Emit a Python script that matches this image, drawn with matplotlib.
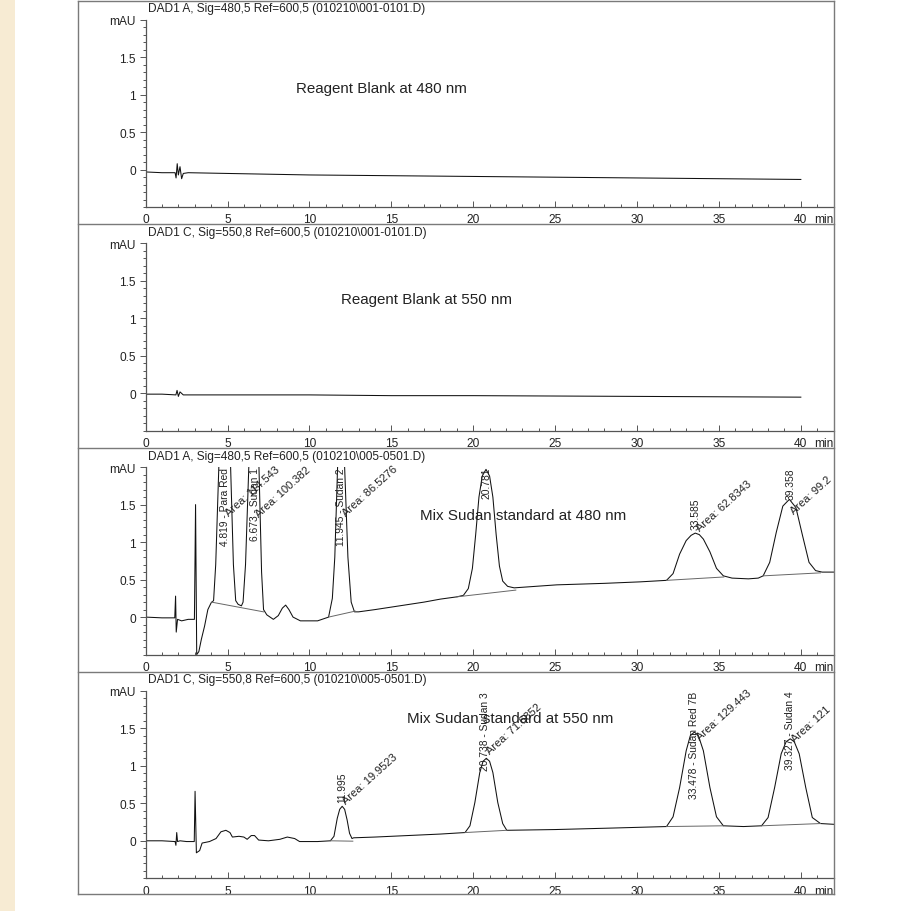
import matplotlib
matplotlib.use('Agg')
import matplotlib.pyplot as plt
from matplotlib.lines import Line2D
from matplotlib.patches import Rectangle
from matplotlib.ticker import MultipleLocator

plt.rcParams['font.family'] = ['Liberation Sans', 'DejaVu Sans']

W, H = 914, 912

titles = [r'DAD1 A, Sig=480,5 Ref=600,5 (010210\001-0101.D)',
          r'DAD1 C, Sig=550,8 Ref=600,5 (010210\001-0101.D)',
          r'DAD1 A, Sig=480,5 Ref=600,5 (010210\005-0501.D)',
          r'DAD1 C, Sig=550,8 Ref=600,5 (010210\005-0501.D)']
captions = ['Reagent Blank at 480 nm', 'Reagent Blank at 550 nm',
            'Mix Sudan standard at 480 nm', 'Mix Sudan standard at 550 nm']
caption_x = [14.41, 17.15, 23.05, 22.25]
caption_y = [1.085, 1.26, 1.36, 1.64]

# traces (time in min, signal in mAU)
blank480_t = [0, 1.0, 1.8, 1.86, 1.93, 2.0, 2.1, 2.2, 2.3, 2.6, 5, 10, 15, 20, 25, 30, 35, 40]
blank480_y = [-0.03, -0.04, -0.04, -0.11, 0.08, -0.07, 0.04, -0.12, -0.05, -0.04, -0.05,
              -0.07, -0.08, -0.09, -0.10, -0.11, -0.12, -0.13]

blank550_t = [0, 1.0, 1.85, 1.92, 2.0, 2.1, 2.3, 5, 10, 15, 20, 25, 30, 35, 40]
blank550_y = [-0.01, -0.01, -0.02, 0.04, -0.04, 0.02, -0.02, -0.02, -0.02, -0.03,
              -0.03, -0.035, -0.04, -0.045, -0.05]

mix480_t = [0, 1.0, 1.78, 1.83, 1.87, 1.95, 2.2, 2.6, 2.98, 3.05, 3.12, 3.25, 3.4, 3.6,
            3.8, 4.0, 4.15, 4.28, 4.47, 4.82, 5.19, 5.36, 5.5, 5.65, 5.85, 5.95, 6.1, 6.3,
            6.67, 6.92, 7.08, 7.2, 7.4, 7.8, 8.1, 8.35, 8.55, 8.75, 9.0, 9.45, 10.5, 11.17,
            11.4, 11.55, 11.72, 11.95, 12.15, 12.35, 12.55, 12.75, 13.0, 14.0, 15.5, 17.0,
            18.0, 19.0, 19.4, 19.7, 19.95, 20.15, 20.35, 20.55, 20.78, 21.0, 21.2, 21.4,
            21.6, 21.8, 22.1, 22.5, 25.1, 28.0, 30.2, 31.8, 32.2, 32.6, 33.0, 33.3, 33.55,
            33.8, 34.05, 34.45, 34.85, 35.27, 35.8, 36.8, 37.4, 37.7, 38.1, 38.5, 38.9,
            39.3, 39.7, 40.1, 40.5, 40.9, 41.3, 42.0]
mix480_y = [0.0, -0.01, -0.01, 0.28, -0.2, -0.03, -0.05, -0.03, -0.03, 1.5, -0.5, -0.46,
            -0.3, -0.12, 0.1, 0.19, 0.22, 0.7, 2.0, 3.0, 2.0, 0.7, 0.22, 0.17, 0.15, 0.2,
            0.7, 2.0, 3.0, 2.0, 0.6, 0.1, 0.03, -0.03, 0.02, 0.12, 0.16, 0.1, 0.0, -0.05,
            -0.05, 0.0, 0.25, 0.8, 2.0, 3.0, 2.0, 0.8, 0.2, 0.07, 0.07, 0.1, 0.15, 0.2,
            0.24, 0.27, 0.29, 0.38, 0.65, 1.1, 1.6, 1.88, 1.97, 1.88, 1.6, 1.1, 0.68, 0.48,
            0.41, 0.39, 0.43, 0.45, 0.47, 0.49, 0.58, 0.84, 1.02, 1.09, 1.12, 1.1, 1.04,
            0.87, 0.65, 0.55, 0.52, 0.51, 0.52, 0.55, 0.73, 1.13, 1.48, 1.57, 1.46, 1.09,
            0.73, 0.62, 0.6, 0.6]

mix550_t = [0, 1.0, 1.8, 1.85, 1.9, 1.95, 2.1, 2.5, 2.97, 3.02, 3.1, 3.3, 3.45, 3.9, 4.3,
            4.6, 4.9, 5.15, 5.3, 5.7, 6.0, 6.2, 6.45, 6.65, 6.9, 7.5, 8.2, 8.65, 9.1, 9.4,
            10.5, 11.28, 11.5, 11.7, 11.85, 12.0, 12.15, 12.3, 12.45, 12.6, 12.7, 14.0,
            16.0, 18.0, 19.5, 19.8, 20.1, 20.4, 20.6, 20.8, 21.0, 21.2, 21.5, 21.8, 22.05,
            25.0, 28.5, 31.8, 32.2, 32.6, 33.0, 33.25, 33.5, 33.75, 34.05, 34.45, 34.85,
            35.27, 36.5, 37.6, 38.0, 38.4, 38.8, 39.1, 39.35, 39.6, 39.9, 40.3, 40.7, 41.2,
            42.0]
mix550_y = [0.0, 0.0, -0.01, -0.06, 0.11, -0.01, 0.0, -0.01, -0.01, 0.66, -0.16, -0.13,
            -0.03, -0.01, 0.03, 0.12, 0.14, 0.11, 0.05, 0.06, 0.05, 0.02, 0.07, 0.07, 0.01,
            0.0, 0.02, 0.05, 0.03, -0.01, -0.01, 0.0, 0.06, 0.3, 0.42, 0.46, 0.42, 0.28,
            0.1, 0.03, 0.04, 0.05, 0.07, 0.09, 0.11, 0.2, 0.51, 0.91, 1.06, 1.1, 1.06, 0.91,
            0.51, 0.23, 0.14, 0.15, 0.17, 0.19, 0.32, 0.71, 1.2, 1.4, 1.45, 1.4, 1.2, 0.71,
            0.32, 0.2, 0.19, 0.2, 0.31, 0.71, 1.16, 1.32, 1.36, 1.32, 1.16, 0.71, 0.31,
            0.23, 0.22]

# integration baselines: (t0, y0, t1, y1)
mix480_base = [(4.02, 0.2, 7.2, 0.07), (11.17, 0.0, 12.8, 0.08), (19.0, 0.27, 22.6, 0.36),
               (31.8, 0.49, 35.3, 0.535), (37.7, 0.55, 41.2, 0.59)]
mix550_base = [(11.28, 0.0, 12.65, -0.005), (19.5, 0.11, 22.05, 0.14),
               (31.8, 0.19, 35.27, 0.2), (37.6, 0.2, 41.2, 0.23)]

mix480_rt = [4.819, 6.673, 11.945, 20.781, 33.585, 39.358]
mix480_rt_text = ['4.819 - Para Red', '6.673 - Sudan 1', '11.945 - Sudan 2', '20.781',
                  '33.585', '39.358']
mix480_rt_y = [2.0, 2.0, 2.0, 2.0, 1.17, 2.0]
mix480_area_text = ['Area: 114.543', 'Area: 100.382', 'Area: 86.5276', 'Area: 62.8343',
                    'Area: 99.2']
mix480_area_x = [5.15, 7.0, 12.3, 33.95, 39.65]
mix480_area_y = [1.33, 1.31, 1.33, 1.13, 1.35]

mix550_rt = [11.995, 20.738, 33.478, 39.327]
mix550_rt_text = ['11.995', '20.738 - Sudan 3', '33.478 - Sudan Red 7B', '39.327 - Sudan 4']
mix550_rt_y = [0.52, 2.0, 2.0, 2.0]
mix550_area_text = ['Area: 19.9523', 'Area: 71.6852', 'Area: 129.443', 'Area: 121']
mix550_area_x = [12.3, 21.1, 33.9, 39.7]
mix550_area_y = [0.47, 1.14, 1.32, 1.3]

panels = [
    dict(t=blank480_t, y=blank480_y, base=[], rt=[], rt_text=[], rt_y=[],
         area_text=[], area_x=[], area_y=[]),
    dict(t=blank550_t, y=blank550_y, base=[], rt=[], rt_text=[], rt_y=[],
         area_text=[], area_x=[], area_y=[]),
    dict(t=mix480_t, y=mix480_y, base=mix480_base, rt=mix480_rt, rt_text=mix480_rt_text,
         rt_y=mix480_rt_y, area_text=mix480_area_text, area_x=mix480_area_x,
         area_y=mix480_area_y),
    dict(t=mix550_t, y=mix550_y, base=mix550_base, rt=mix550_rt, rt_text=mix550_rt_text,
         rt_y=mix550_rt_y, area_text=mix550_area_text, area_x=mix550_area_x,
         area_y=mix550_area_y),
]

fig = plt.figure(figsize=(W / 100, H / 100), dpi=100)
fig.patch.set_facecolor('white')
fig.add_artist(Rectangle((0, 0), 15 / W, 1, transform=fig.transFigure,
                         facecolor='#f7ebd3', edgecolor='none'))

frame_c = '#7a7a7a'
x_left, x_right = 78, 833.6
for yy in [1.5, 225, 449, 673, 895]:
    fig.add_artist(Line2D([x_left / W, x_right / W], [1 - yy / H, 1 - yy / H],
                          transform=fig.transFigure, color=frame_c, lw=1))
for xx in [x_left, x_right]:
    fig.add_artist(Line2D([xx / W, xx / W], [1 - 1.5 / H, 1 - 895 / H],
                          transform=fig.transFigure, color=frame_c, lw=1))

ax_l, ax_r = 145.6, 833.6
for k, p in enumerate(panels):
    top = 20.7 + 223.7 * k
    bot = top + 187.5
    ax = fig.add_axes([ax_l / W, 1 - bot / H, (ax_r - ax_l) / W, (bot - top) / H])
    ax.set_xlim(0, 42)
    ax.set_ylim(-0.5, 2.0)
    ax.patch.set_alpha(0)
    for s in ['top', 'right']:
        ax.spines[s].set_visible(False)
    for s in ['left', 'bottom']:
        ax.spines[s].set_color('#555555')
        ax.spines[s].set_linewidth(0.9)

    ax.plot(p['t'], p['y'], color='#111111', lw=0.75)
    for t0, y0, t1, y1 in p['base']:
        ax.plot([t0, t1], [y0, y1], color='#666666', lw=0.7)

    ax.set_xticks(range(0, 41, 5))
    ax.xaxis.set_minor_locator(MultipleLocator(1))
    ax.set_yticks([0, 0.5, 1, 1.5, 2])
    ax.set_yticklabels(['0', '0.5', '1', '1.5', 'mAU'])
    ax.yaxis.set_minor_locator(MultipleLocator(0.1))
    ax.tick_params(axis='x', which='major', direction='in', length=4.5, width=0.7,
                   color='#555555', labelsize=8.6, pad=4.5, labelcolor='#222222')
    ax.tick_params(axis='x', which='minor', direction='in', length=2.5, width=0.7,
                   color='#555555')
    ax.tick_params(axis='y', which='major', direction='out', length=4, width=0.7,
                   color='#555555', labelsize=8.6, pad=3, labelcolor='#222222')
    ax.tick_params(axis='y', which='minor', direction='out', length=2.3, width=0.7,
                   color='#555555')
    ax.annotate('min', xy=(1, 0), xycoords='axes fraction', xytext=(0, -4.5),
                textcoords='offset points', ha='right', va='top', fontsize=8.6,
                color='#222222')

    ax.text((148 - ax_l) / (ax_r - ax_l), 1 + 11.5 / 187.5, titles[k], transform=ax.transAxes,
            ha='left', va='center', fontsize=8.6, color='#222222')
    ax.text(caption_x[k], caption_y[k], captions[k], ha='center', va='center',
            fontsize=10.9, color='#222222')

    for x, s, yy in zip(p['rt'], p['rt_text'], p['rt_y']):
        va = 'top' if yy >= 2.0 else 'bottom'
        ax.text(x, yy, s, rotation=90, ha='center', va=va, fontsize=7.4, color='#222222')
    for s, x, yy in zip(p['area_text'], p['area_x'], p['area_y']):
        ax.text(x, yy, s, rotation=42, rotation_mode='anchor', ha='left', va='bottom',
                fontsize=8.0, color='#222222', clip_on=x > 39)

fig.savefig('out.png', dpi=100)
